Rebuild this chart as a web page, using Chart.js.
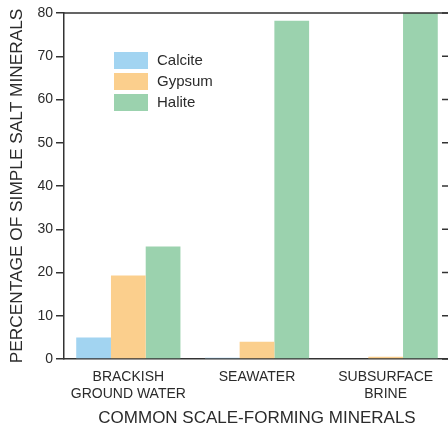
<!DOCTYPE html>
<html>
<head>
<meta charset="utf-8">
<script src="https://cdn.jsdelivr.net/npm/chart.js@4/dist/chart.umd.min.js"></script>
<style>
    html, body { margin: 0; padding: 0; background: #fff; overflow: hidden; }
    #wrap { width: 448px; height: 430px; overflow: hidden; }
</style>
</head>
<body>
<div id="wrap"><canvas id="saltChart" width="452" height="430"></canvas></div>
<script>
// ===== DATOS =====
const categories = [['BRACKISH', 'GROUND WATER'], ['SEAWATER'], ['SUBSURFACE', 'BRINE']];
const seriesNames = ['Calcite', 'Gypsum', 'Halite'];
const calcite = [5, 0.3, 0];
const gypsum = [19.3, 4, 0.5];
const halite = [26, 78.2, 99];
const yMin = 0;
const yMax = 80;
const yStep = 10;

const colors = ['#a2d4f1', '#fbcf8d', '#9bd2ae'];
const axisColor = '#333';
const textColor = '#2b2b2b';

Chart.defaults.font.family = "'Liberation Sans', Arial, Helvetica, sans-serif";
Chart.defaults.color = textColor;

// Marco: borde superior, eje derecho con marcas hacia dentro, leyenda dentro del área
const framePlugin = {
    id: 'frame',
    afterDraw(chart) {
        const ctx = chart.ctx;
        const area = chart.chartArea;
        const y = chart.scales.y;
        ctx.save();
        ctx.strokeStyle = axisColor;
        ctx.lineWidth = 1.5;
        ctx.beginPath();
        ctx.moveTo(area.left, area.top);
        ctx.lineTo(area.right, area.top);
        ctx.lineTo(area.right, area.bottom);
        ctx.stroke();
        y.ticks.forEach(function (t) {
            const py = y.getPixelForValue(t.value);
            ctx.beginPath();
            ctx.moveTo(area.right - 8, py);
            ctx.lineTo(area.right, py);
            ctx.stroke();
        });

        // leyenda
        const lx = area.left + 50;
        let ly = area.top + 39;
        ctx.font = "15px 'Liberation Sans', Arial, sans-serif";
        ctx.textBaseline = 'middle';
        chart.data.datasets.forEach(function (ds) {
            ctx.fillStyle = ds.backgroundColor;
            ctx.fillRect(lx, ly, 34, 17);
            ctx.fillStyle = textColor;
            ctx.fillText(ds.label, lx + 43, ly + 9);
            ly += 21;
        });
        ctx.restore();
    }
};

const ctx = document.getElementById('saltChart');
new Chart(ctx, {
    type: 'bar',
    data: {
        labels: categories,
        datasets: [
            { label: seriesNames[0], data: calcite, backgroundColor: colors[0] },
            { label: seriesNames[1], data: gypsum, backgroundColor: colors[1] },
            { label: seriesNames[2], data: halite, backgroundColor: colors[2] }
        ]
    },
    options: {
        responsive: false,
        animation: false,
        devicePixelRatio: 1,
        layout: { padding: { top: 13, right: 2, left: 0, bottom: 0 } },
        datasets: {
            bar: { categoryPercentage: 0.81, barPercentage: 1.0, borderWidth: 0 }
        },
        plugins: {
            legend: { display: false },
            tooltip: { enabled: false }
        },
        scales: {
            x: {
                afterFit: function (scale) { scale.height = 71; },
                grid: { display: false, drawTicks: false },
                border: { display: true, color: axisColor, width: 1.5 },
                ticks: {
                    color: textColor,
                    padding: 9,
                    maxRotation: 0,
                    autoSkip: false,
                    font: { size: 14, lineHeight: 1.25 }
                },
                title: {
                    display: true,
                    text: 'COMMON SCALE-FORMING MINERALS',
                    color: textColor,
                    font: { size: 17 },
                    padding: { top: 0, bottom: 1 }
                }
            },
            y: {
                min: yMin,
                max: yMax,
                afterFit: function (scale) { scale.width = 64; },
                grid: {
                    drawOnChartArea: false,
                    drawTicks: true,
                    tickLength: 8,
                    color: axisColor,
                    lineWidth: 1.5
                },
                border: { display: true, color: axisColor, width: 1.5 },
                ticks: {
                    stepSize: yStep,
                    color: textColor,
                    padding: 3,
                    font: { size: 14 }
                },
                title: {
                    display: true,
                    text: 'PERCENTAGE OF SIMPLE SALT MINERALS',
                    color: textColor,
                    font: { size: 17.3 },
                    padding: { top: 6.5, bottom: 0 }
                }
            }
        }
    },
    plugins: [framePlugin]
});
</script>
</body>
</html>
